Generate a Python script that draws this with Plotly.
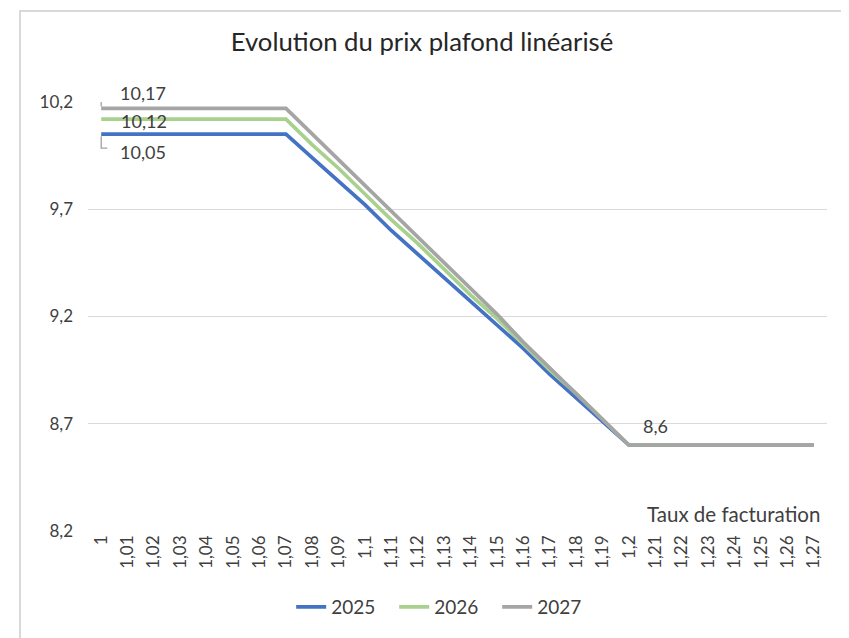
import plotly.graph_objects as go

categories = ["1", "1,01", "1,02", "1,03", "1,04", "1,05", "1,06", "1,07", "1,08", "1,09",
              "1,1", "1,11", "1,12", "1,13", "1,14", "1,15", "1,16", "1,17", "1,18", "1,19",
              "1,2", "1,21", "1,22", "1,23", "1,24", "1,25", "1,26", "1,27"]

prix_2025 = [10.05, 10.05, 10.05, 10.05, 10.05, 10.05, 10.05, 10.05,
             9.94, 9.83, 9.72, 9.60, 9.49, 9.38, 9.27, 9.16, 9.05, 8.93, 8.82, 8.71,
             8.6, 8.6, 8.6, 8.6, 8.6, 8.6, 8.6, 8.6]
prix_2026 = [10.12, 10.12, 10.12, 10.12, 10.12, 10.12, 10.12, 10.12,
             10.00, 9.89, 9.77, 9.65, 9.54, 9.42, 9.30, 9.19, 9.07, 8.95, 8.84, 8.72,
             8.6, 8.6, 8.6, 8.6, 8.6, 8.6, 8.6, 8.6]
prix_2027 = [10.17, 10.17, 10.17, 10.17, 10.17, 10.17, 10.17, 10.17,
             10.05, 9.93, 9.81, 9.69, 9.57, 9.45, 9.33, 9.21, 9.08, 8.96, 8.84, 8.72,
             8.6, 8.6, 8.6, 8.6, 8.6, 8.6, 8.6, 8.6]

y_ticks = [8.2, 8.7, 9.2, 9.7, 10.2]
y_ticktext = ["8,2", "8,7", "9,2", "9,7", "10,2"]

FONT = "Lato"
TXT = "#404040"

x_idx = list(range(len(categories)))

fig = go.Figure()
for name, vals, col in [("2025", prix_2025, "#4472C4"),
                        ("2026", prix_2026, "#A9D18E"),
                        ("2027", prix_2027, "#A5A5A5")]:
    fig.add_trace(go.Scatter(x=x_idx, y=vals, mode="lines", name=name,
                             line=dict(color=col, width=3.7), hoverinfo="skip"))

def fmt(v):
    s = ("%.2f" % v).rstrip("0").rstrip(".")
    return s.replace(".", ",")

# data labels
labels = [(0, prix_2027[0], 17, 15), (0, prix_2026[0], 18, -2), (0, prix_2025[0], 17, -18)]
for xi, yv, dx, dy in labels:
    fig.add_annotation(x=xi, y=yv, text=fmt(yv), showarrow=False, xanchor="left",
                       yanchor="middle", xshift=dx, yshift=dy,
                       font=dict(family=FONT, size=18, color=TXT))
fig.add_annotation(x=21, y=prix_2027[21], text=fmt(prix_2027[21]), showarrow=False,
                   xanchor="center", yanchor="middle", yshift=19,
                   font=dict(family=FONT, size=18, color=TXT))

# leader lines
fig.add_shape(type="path", xref="x", yref="y", xsizemode="pixel", ysizemode="pixel",
              xanchor=0, yanchor=prix_2027[0], path="M0,2 L0,16 L6,16",
              line=dict(color="#A0A0A0", width=1.3))
fig.add_shape(type="path", xref="x", yref="y", xsizemode="pixel", ysizemode="pixel",
              xanchor=0, yanchor=prix_2025[0], path="M0,-2 L0,-14 L6,-14",
              line=dict(color="#A0A0A0", width=1.3))

# axis title
fig.add_annotation(xref="paper", yref="paper", x=0.9935, y=0.04, text="Taux de facturation",
                   showarrow=False, xanchor="right", yanchor="middle",
                   font=dict(family=FONT, size=20.5, color=TXT))

# chart frame
fig.add_shape(type="rect", xref="paper", yref="paper", x0=-0.092, x1=1.0284,
              y0=-0.6, y1=1.212, line=dict(color="#D9D9D9", width=2), layer="below")

fig.update_layout(
    width=841, height=630,
    margin=dict(l=80, r=22, t=94, b=98),
    paper_bgcolor="white", plot_bgcolor="white",
    title=dict(text="Evolution du prix plafond linéarisé", x=(422 - 8) / 841, xref="container",
               xanchor="center", y=1 - (42 - 8) / 630, yref="container", yanchor="middle",
               font=dict(family=FONT, size=25.7, color="#262626")),
    font=dict(family=FONT, color=TXT),
    showlegend=True,
    legend=dict(orientation="h", x=0.484, xanchor="center", y=-0.177, yanchor="middle",
                font=dict(family=FONT, size=19, color=TXT), itemwidth=30,
                entrywidth=58, entrywidthmode="pixels", tracegroupgap=0),
    xaxis=dict(tickmode="array", tickvals=x_idx, ticktext=categories, tickangle=-90,
               range=[-0.5, len(categories) - 0.5], showgrid=False, zeroline=False,
               showline=False, ticks="", tickfont=dict(family=FONT, size=17, color=TXT)),
    yaxis=dict(range=[8.2, 10.2], tickvals=y_ticks, ticktext=y_ticktext,
               showgrid=True, gridcolor="#D9D9D9", gridwidth=1.3, zeroline=False,
               showline=False, ticks="", ticklabelstandoff=14,
               tickfont=dict(family=FONT, size=17, color=TXT)),
)

fig.write_html("out.html")
